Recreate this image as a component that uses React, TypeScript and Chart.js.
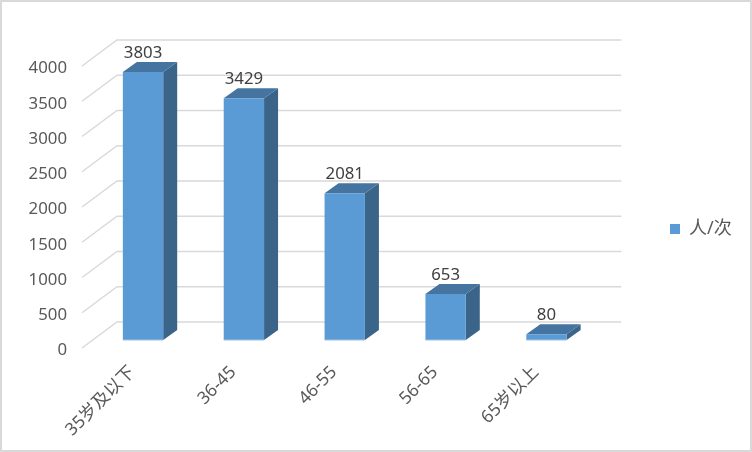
import React, { useEffect, useRef } from "react";
import { Chart, registerables } from "chart.js";

Chart.register(...registerables);

const categories = ["35岁及以下", "36-45", "46-55", "56-65", "65岁以上"];
const seriesName = "人/次";
const values = [3803, 3429, 2081, 653, 80];
const yTicks = [0, 500, 1000, 1500, 2000, 2500, 3000, 3500, 4000];

const FONT = '"Noto Sans", "Noto Sans CJK SC", sans-serif';
const FRONT = "#5B9BD5";
const SIDE = "#3A6488";
const TOP = "#44749F";
const EDGE = "#9DC3E6";
const GRID = "#D9D9D9";

// depth of the whole floor, and the shift of the bars into it
const FLOOR_DX = 35;
const FLOOR_DY = 26;
const BAR_DX = 10.6;
const BAR_DY = 8;
const BAR_DEPTH_X = 14;
const BAR_DEPTH_Y = 10;

const poly = (ctx: CanvasRenderingContext2D, pts: number[][], fill: string) => {
  ctx.beginPath();
  pts.forEach((p, i) => (i ? ctx.lineTo(p[0], p[1]) : ctx.moveTo(p[0], p[1])));
  ctx.closePath();
  ctx.fillStyle = fill;
  ctx.fill();
};

const threeD = {
  id: "threeD",
  afterLayout(chart: any) {
    const lg = chart.legend;
    if (lg) {
      const w = lg.width;
      const h = lg.height;
      lg.left = 664;
      lg.right = 664 + w;
      lg.top = 214;
      lg.bottom = lg.top + h;
    }
  },
  beforeDraw(chart: any) {
    const { ctx, width, height } = chart;
    ctx.save();
    ctx.fillStyle = "#FFFFFF";
    ctx.fillRect(0, 0, width, height);
    ctx.strokeStyle = GRID;
    ctx.lineWidth = 2;
    ctx.strokeRect(1, 1, width - 2, height - 2);
    ctx.restore();
  },
  beforeDatasetsDraw(chart: any) {
    const { ctx, chartArea } = chart;
    const yScale = chart.scales.y;
    ctx.save();
    ctx.strokeStyle = GRID;
    ctx.lineWidth = 1.4;
    yScale.ticks.forEach((t: any) => {
      const y = yScale.getPixelForValue(t.value);
      ctx.beginPath();
      ctx.moveTo(chartArea.left, y);
      ctx.lineTo(chartArea.left + FLOOR_DX, y - FLOOR_DY);
      ctx.lineTo(chartArea.right + FLOOR_DX, y - FLOOR_DY);
      ctx.stroke();
    });
    chart.getDatasetMeta(0).data.forEach((bar: any) => {
      const l = bar.x - bar.width / 2 + BAR_DX;
      const r = bar.x + bar.width / 2 + BAR_DX;
      const t = bar.y - BAR_DY;
      const b = bar.base - BAR_DY;
      poly(ctx, [[r, t], [r + BAR_DEPTH_X, t - BAR_DEPTH_Y], [r + BAR_DEPTH_X, b - BAR_DEPTH_Y], [r, b]], SIDE);
      poly(ctx, [[l, t], [l + BAR_DEPTH_X, t - BAR_DEPTH_Y], [r + BAR_DEPTH_X, t - BAR_DEPTH_Y], [r, t]], TOP);
    });
    ctx.restore();
    ctx.save();
    ctx.translate(BAR_DX, -BAR_DY);
  },
  afterDatasetsDraw(chart: any) {
    const { ctx } = chart;
    ctx.restore();
    ctx.save();
    const ds = chart.data.datasets[0];
    ctx.font = `16.8px ${FONT}`;
    ctx.textAlign = "center";
    ctx.textBaseline = "middle";
    chart.getDatasetMeta(0).data.forEach((bar: any, i: number) => {
      const l = bar.x - bar.width / 2 + BAR_DX;
      const r = bar.x + bar.width / 2 + BAR_DX;
      const b = bar.base - BAR_DY;
      ctx.fillStyle = EDGE;
      ctx.fillRect(l, b - 0.5, r - l, 1);
      ctx.fillStyle = "#404040";
      ctx.fillText(String(ds.data[i]), bar.x + BAR_DX, bar.y - BAR_DY - 19);
    });
    ctx.restore();
  },
};

export default function App() {
  const ref = useRef<HTMLCanvasElement>(null);
  useEffect(() => {
    const chart = new Chart(ref.current as HTMLCanvasElement, {
      type: "bar",
      data: {
        labels: categories,
        datasets: [
          {
            label: seriesName,
            data: values,
            backgroundColor: FRONT,
            borderWidth: 0,
            barPercentage: 0.4,
            categoryPercentage: 1,
            clip: false as any,
          },
        ],
      },
      plugins: [threeD],
      options: {
        responsive: false,
        animation: false,
        layout: { padding: { left: 0, right: 88, top: 66, bottom: 0 } },
        plugins: {
          tooltip: { enabled: false },
          title: { display: false },
          legend: {
            position: "right",
            align: "start",
            labels: {
              boxWidth: 10,
              boxHeight: 10,
              padding: 6,
              color: "#595959",
              font: { family: FONT, size: 18 },
            },
          },
        },
        scales: {
          x: {
            grid: { display: false, drawTicks: false },
            border: { display: false },
            ticks: {
              color: "#595959",
              font: { family: FONT, size: 17.5 },
              minRotation: 45,
              maxRotation: 45,
              padding: 14,
              autoSkip: false,
            },
            afterFit: (s: any) => {
              s.height = 104;
            },
          },
          y: {
            min: 0,
            max: 4000,
            afterBuildTicks: (s: any) => {
              s.ticks = yTicks.map((value) => ({ value }));
            },
            grid: { display: false, drawTicks: false },
            border: { display: false },
            ticks: {
              color: "#595959",
              font: { family: FONT, size: 16.8 },
              padding: 15,
              labelOffset: 2.5,
              callback: (v: any) => String(v),
            },
            afterFit: (s: any) => {
              s.width = 82;
            },
          },
        },
      },
    } as any);
    return () => chart.destroy();
  }, []);
  return (
    <div style={{ position: "absolute", left: 0, top: 0, width: 752, height: 452 }}>
      <canvas ref={ref} width={752} height={452} style={{ display: "block" }} />
    </div>
  );
}
